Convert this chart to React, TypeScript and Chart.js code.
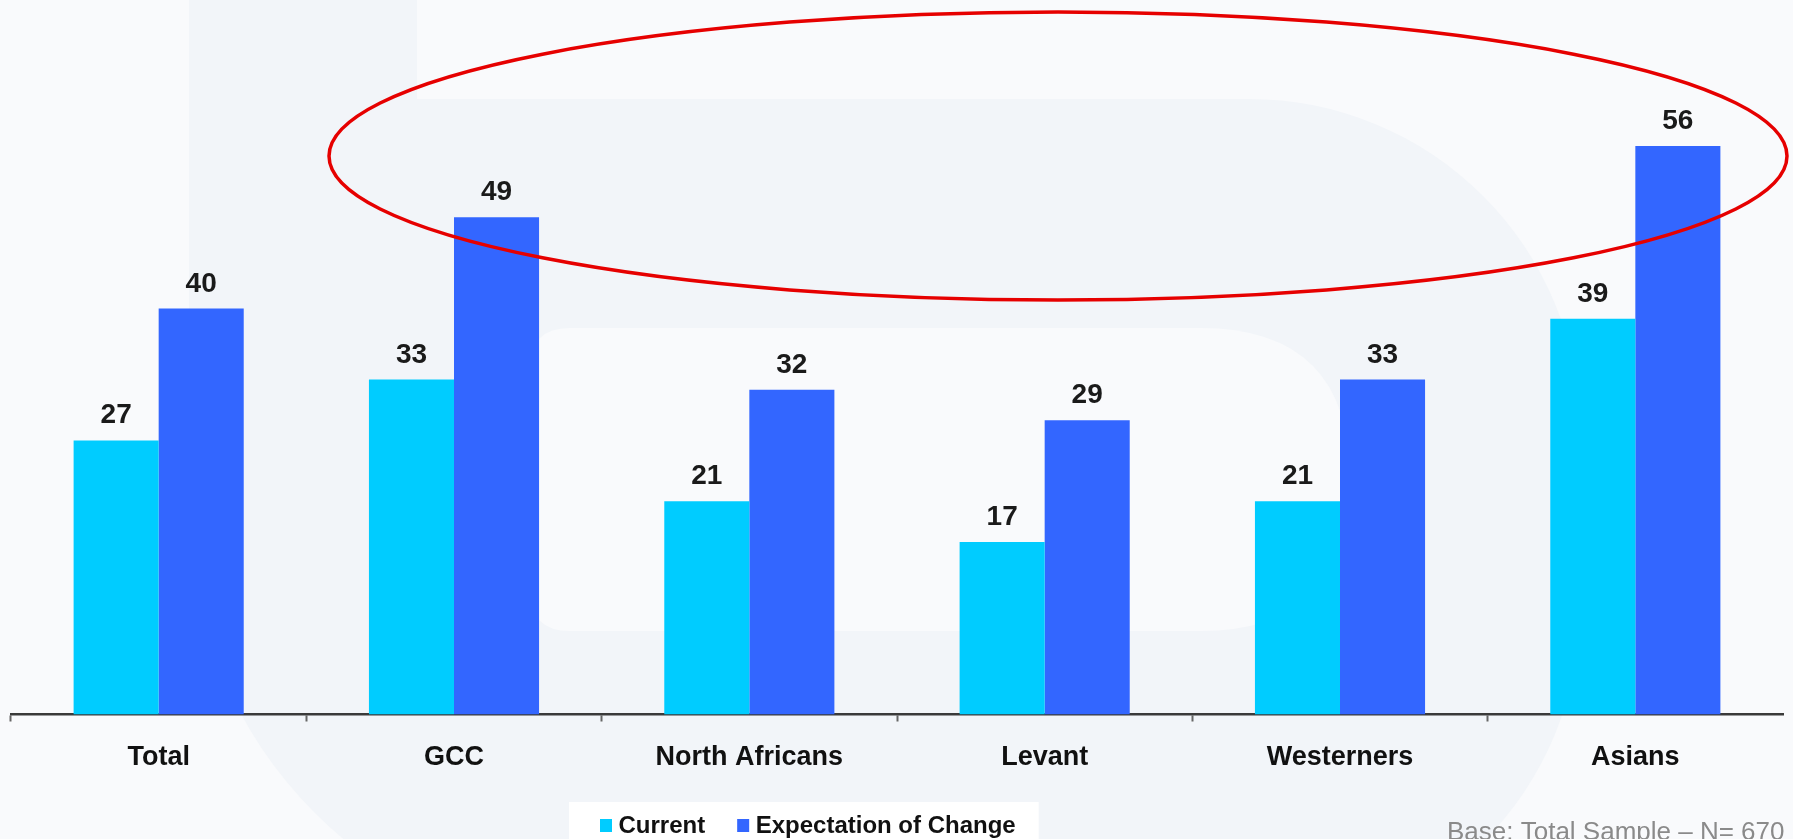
import React, { useEffect, useRef } from 'react';
import { Chart, registerables } from 'chart.js';

Chart.register(...registerables);

// Share of respondents per group (%)
const categories = ['Total', 'GCC', 'North Africans', 'Levant', 'Westerners', 'Asians'];
const currentValues = [27, 33, 21, 17, 21, 39];
const expectationValues = [40, 49, 32, 29, 33, 56];
const seriesLabels = ['Current', 'Expectation of Change'];
const seriesColors = ['#00CCFF', '#3366FF'];
const baseNote = 'Base: Total Sample \u2013 N= 670';

const W = 1793;
const H = 839;
const FONT = '"Liberation Sans", Arial, Helvetica, sans-serif';

// Faint letter-shaped watermark behind the plot
const watermarkPlugin = {
  id: 'watermark',
  beforeDraw(chart: any) {
    const { ctx } = chart;
    ctx.save();
    ctx.fillStyle = '#f9fafc';
    ctx.fillRect(0, 0, W, H);

    ctx.fillStyle = '#f2f5f9';
    ctx.beginPath();
    ctx.moveTo(189, 0);
    ctx.lineTo(417, 0);
    ctx.lineTo(417, 99);
    ctx.lineTo(1249, 99);
    ctx.arc(1249, 430, 331, -Math.PI / 2, 0);
    ctx.lineTo(1580, 608);
    ctx.arc(1249, 608, 331, 0, Math.PI / 2);
    ctx.lineTo(619, 939);
    ctx.arc(619, 509, 430, Math.PI / 2, Math.PI);
    ctx.closePath();
    ctx.fill();

    // inner counter
    ctx.fillStyle = '#f9fafc';
    ctx.beginPath();
    const l = 530, t = 328, r = 1350, b = 631, rl = 40, rr = 150;
    ctx.moveTo(l + rl, t);
    ctx.lineTo(r - rr, t);
    ctx.quadraticCurveTo(r, t, r, t + rr);
    ctx.lineTo(r, b - rr);
    ctx.quadraticCurveTo(r, b, r - rr, b);
    ctx.lineTo(l + rl, b);
    ctx.quadraticCurveTo(l, b, l, b - rl);
    ctx.lineTo(l, t + rl);
    ctx.quadraticCurveTo(l, t, l + rl, t);
    ctx.closePath();
    ctx.fill();
    ctx.restore();
  },
};

// Value printed above every bar
const valueLabelPlugin = {
  id: 'valueLabels',
  afterDatasetsDraw(chart: any) {
    const { ctx } = chart;
    ctx.save();
    ctx.font = `bold 28px ${FONT}`;
    ctx.fillStyle = '#1a1a1a';
    ctx.textAlign = 'center';
    ctx.textBaseline = 'alphabetic';
    chart.data.datasets.forEach((ds: any, i: number) => {
      const meta = chart.getDatasetMeta(i);
      meta.data.forEach((bar: any, j: number) => {
        ctx.fillText(String(ds.data[j]), bar.x, bar.y - 17);
      });
    });
    ctx.restore();
  },
};

// Highlight ring, legend and sample note
const overlayPlugin = {
  id: 'overlay',
  afterDraw(chart: any) {
    const { ctx } = chart;
    ctx.save();

    ctx.strokeStyle = '#e60000';
    ctx.lineWidth = 3.5;
    ctx.beginPath();
    ctx.ellipse(1058, 156, 729, 144, 0, 0, Math.PI * 2);
    ctx.stroke();

    // legend
    ctx.font = `bold 24px ${FONT}`;
    const startX = 600;
    const sq = 12;
    const gapText = 6.5;
    const gapItem = 32;
    let x = startX;
    const items = chart.data.datasets.map((ds: any) => {
      const w = ctx.measureText(ds.label).width;
      const it = { x, label: ds.label, color: ds.backgroundColor, w };
      x += sq + gapText + w + gapItem;
      return it;
    });
    const endX = x - gapItem;
    ctx.fillStyle = '#ffffff';
    ctx.fillRect(startX - 31, 802, endX - startX + 31 + 23, H - 802);
    items.forEach((it: any) => {
      ctx.fillStyle = it.color;
      ctx.fillRect(it.x, 819, sq, 13);
      ctx.fillStyle = '#111111';
      ctx.textBaseline = 'alphabetic';
      ctx.textAlign = 'left';
      ctx.fillText(it.label, it.x + sq + gapText, 833);
    });

    ctx.font = `26px ${FONT}`;
    ctx.fillStyle = '#8a8a8a';
    ctx.fillText(baseNote, 1447, 840);
    ctx.restore();
  },
};

export default function App() {
  const ref = useRef<HTMLCanvasElement>(null);

  useEffect(() => {
    if (!ref.current) return;
    const chart = new Chart(ref.current, {
      type: 'bar',
      data: {
        labels: categories,
        datasets: [
          {
            label: seriesLabels[0],
            data: currentValues,
            backgroundColor: seriesColors[0],
            categoryPercentage: 0.576,
            barPercentage: 1.0,
          },
          {
            label: seriesLabels[1],
            data: expectationValues,
            backgroundColor: seriesColors[1],
            categoryPercentage: 0.576,
            barPercentage: 1.0,
          },
        ],
      },
      options: {
        responsive: false,
        animation: false,
        devicePixelRatio: 1,
        layout: { padding: { left: 11, right: 10, top: 4, bottom: 0 } },
        plugins: {
          legend: { display: false },
          tooltip: { enabled: false },
        },
        scales: {
          x: {
            offset: true,
            grid: {
              offset: true,
              drawOnChartArea: false,
              drawTicks: true,
              tickLength: 7,
              tickWidth: 2,
              // no tick mark at the far right end of the axis
              tickColor: (c: any) =>
                c.type !== 'tick' || c.index >= categories.length ? 'rgba(0,0,0,0)' : '#666666',
            },
            border: { display: true, color: '#3a3a3a', width: 2.5 },
            ticks: {
              color: '#111111',
              font: { family: FONT, size: 27, weight: 'bold' },
              padding: 20,
              maxRotation: 0,
              autoSkip: false,
            },
            afterFit: (scale: any) => {
              scale.height = 124.5;
            },
          },
          y: {
            display: false,
            min: 0,
            max: 70,
          },
        },
      },
      plugins: [watermarkPlugin, valueLabelPlugin, overlayPlugin],
    });
    return () => chart.destroy();
  }, []);

  return (
    <div style={{ position: 'fixed', left: 0, top: 0, width: W, height: H }}>
      <canvas ref={ref} width={W} height={H} style={{ display: 'block', width: W, height: H }} />
    </div>
  );
}
